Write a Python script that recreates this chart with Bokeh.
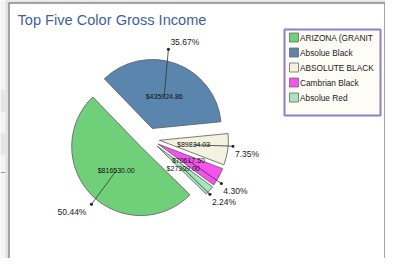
import math
from bokeh.plotting import figure
from bokeh.models import Range1d, ColumnDataSource
from bokeh.embed import file_html
from bokeh.resources import INLINE
from bokeh.core.properties import value

# ---- data ----
categories = ["ARIZONA (GRANIT", "Absolue Black", "ABSOLUTE BLACK", "Cambrian Black", "Absolue Red"]
percents = [50.44, 35.67, 7.35, 4.30, 2.24]
amounts = ["$816530.00", "$435924.86", "$89834.03", "$70617.50", "$27309.00"]
pct_labels = ["50.44%", "35.67%", "7.35%", "4.30%", "2.24%"]
colors = ["#70d07a", "#5a86ad", "#f2f2de", "#f552ef", "#a6e5bd"]

# ---- layout (pixel-like coordinates, y measured from bottom) ----
H = 274
def Y(py):
    return H - py

FONT = value("Liberation Sans")
cx, cy = 156.0, Y(146.3)
R = 69.0
EXPLODE = 11.0
START = math.radians(315.6)
lead_tweak = [4.7, 8.7, 3.0, -3.4, -2.0]
lead_len = [1.10, 1.17, 1.07, 1.08, 1.04]

p = figure(width=385, height=258, x_range=Range1d(8, 393), y_range=Range1d(Y(266), Y(8)),
           output_backend="svg", toolbar_location=None, min_border=0)
p.axis.visible = False
p.grid.visible = False
p.outline_line_color = None
p.background_fill_color = "#f4f4f4"
p.border_fill_color = "#f4f4f4"

# left page strip decorations
p.quad(left=[8, 8], right=[13, 13], top=[Y(97), Y(140)], bottom=[Y(120), Y(163)],
       fill_color="#e6e6e6", line_color=None)
p.segment(x0=[8], y0=[Y(180)], x1=[13], y1=[Y(180)], line_color="#9a9a9a", line_width=1)

# panel
p.quad(left=[13], right=[395], top=[Y(5)], bottom=[Y(280)], fill_color="#e2e2e2", line_color=None)
p.quad(left=[16.5], right=[392.5], top=[Y(10.5)], bottom=[Y(280)], fill_color="white",
       line_color="#8a8a8a", line_width=1.5)

# title
p.text(x=[25], y=[Y(27)], text=["Top Five Color Gross Income"], text_font=FONT,
       text_font_size="14.6px", text_color="#3d5fa9", text_baseline="alphabetic")

# pie
total = sum(percents)
cur = START
ws, we, ax, ay, lx, ly, dx, dy = [], [], [], [], [], [], [], []
for i, pc in enumerate(percents):
    a = pc / total * 2 * math.pi
    mid = cur - a / 2
    ws.append(cur - a)
    we.append(cur)
    ox = cx + EXPLODE * math.cos(mid)
    oy = cy + EXPLODE * math.sin(mid)
    ax.append(ox)
    ay.append(oy)
    lx.append(ox + 0.5 * R * math.cos(mid))
    ly.append(oy + 0.5 * R * math.sin(mid))
    la = mid + math.radians(lead_tweak[i])
    dx.append(ox + lead_len[i] * R * math.cos(la))
    dy.append(oy + lead_len[i] * R * math.sin(la))
    cur -= a

src = ColumnDataSource(dict(x=ax, y=ay, s=ws, e=we, c=colors, lx=lx, ly=ly, dx=dx, dy=dy,
                            amt=amounts, pct=pct_labels))
p.wedge(x="x", y="y", radius=R, start_angle="s", end_angle="e", fill_color="c",
        line_color="#5a5a5a", line_width=0.8, source=src)

# leader lines and dots
p.segment(x0="lx", y0="ly", x1="dx", y1="dy", line_color="#333333", line_width=0.8, source=src)
p.scatter(x="dx", y="dy", size=3, fill_color="#222222", line_color=None, source=src)

# amount labels
p.text(x="lx", y="ly", text="amt", text_font=FONT, text_font_size="7px", text_color="#111111",
       text_align="center", text_baseline="middle", source=src)

# percent labels
px_, py_, al, bl = [], [], [], []
for i in range(len(percents)):
    right = dx[i] > cx
    upper = dy[i] > cy + 30
    px_.append(dx[i] + 2 if right else dx[i] - 5)
    al.append("left" if right else "right")
    if upper:
        py_.append(dy[i] + 2)
        bl.append("bottom")
    else:
        py_.append(dy[i] - 2.5)
        bl.append("top")
psrc = ColumnDataSource(dict(x=px_, y=py_, t=pct_labels, a=al, b=bl))
p.text(x="x", y="y", text="t", text_align="a", text_baseline="b", text_font=FONT,
       text_font_size="8.5px", text_color="#222222", source=psrc)

# legend box
p.quad(left=[292], right=[388], top=[Y(37)], bottom=[Y(123)], fill_color="#fdfcf5",
       line_color="#8a80cc", line_width=2)
lg_top = [Y(40.5 + 15 * i) for i in range(len(categories))]
lg_bot = [Y(49.5 + 15 * i) for i in range(len(categories))]
lg_mid = [Y(45 + 15 * i) for i in range(len(categories))]
lsrc = ColumnDataSource(dict(top=lg_top, bot=lg_bot, mid=lg_mid, c=colors, t=categories,
                             l=[297] * len(categories), r=[306] * len(categories),
                             tx=[307.5] * len(categories)))
p.quad(left="l", right="r", top="top", bottom="bot", fill_color="c", line_color="#6a6a6a",
       line_width=0.8, source=lsrc)
p.text(x="tx", y="mid", text="t", text_font=FONT, text_font_size="8.3px", text_color="#222222",
       text_baseline="middle", source=lsrc)

open("out.html", "w").write(file_html(p, INLINE))
